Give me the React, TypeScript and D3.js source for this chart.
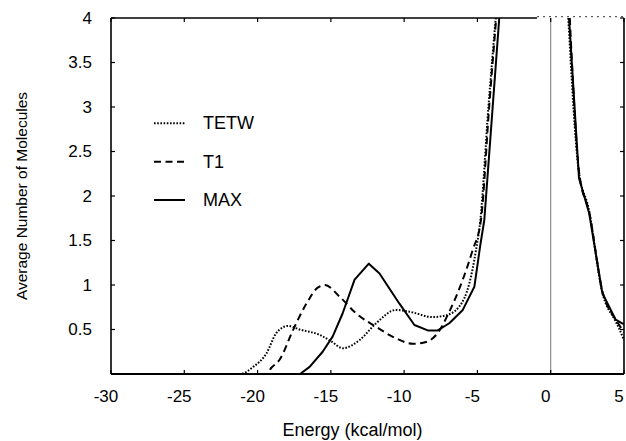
import React from "react";
import * as d3 from "d3";

// ---- data ----
const xTicks = [-30, -25, -20, -15, -10, -5, 0, 5];
const yTicks = [0.5, 1, 1.5, 2, 2.5, 3, 3.5, 4];

// null = above the plotted range (clipped, not visible)
const tetwEnergy = [-30, -21.2, -20.3, -19.4, -18.72, -17.93, -17.13, -15.77, -15.0, -14.18, -13.05, -11.91, -10.55, -9.64, -8.05, -7.14, -6.23, -5.55, -5.1, -4.8, -4.25, -3.75, 0, 1.2, 1.9, 2.6, 3.5, 4.4, 4.7, 5.0];
const tetwValue = [0, 0, 0.08, 0.23, 0.46, 0.54, 0.5, 0.44, 0.37, 0.29, 0.38, 0.57, 0.72, 0.7, 0.64, 0.66, 0.76, 1.02, 1.39, 1.73, 3.0, 4.0, null, 4.0, 2.3, 1.85, 0.93, 0.6, 0.5, 0.38];

const t1Energy = [-30, -19.4, -19.06, -18.5, -17.59, -16.67, -15.9, -15.4, -14.41, -13.27, -11.91, -10.55, -9.41, -8.5, -7.71, -6.92, -6.0, -5.33, -4.76, -4.2, -3.72, 0, 1.3, 1.95, 2.65, 3.5, 4.4, 4.8, 5.0];
const t1Value = [0, 0, 0.07, 0.16, 0.49, 0.79, 0.97, 1.0, 0.87, 0.68, 0.53, 0.4, 0.34, 0.36, 0.46, 0.7, 1.06, 1.39, 1.73, 3.0, 4.0, null, 4.0, 2.25, 1.8, 0.95, 0.62, 0.52, 0.47];

const maxEnergy = [-30, -17.1, -16.45, -15.56, -14.88, -14.2, -13.38, -12.41, -11.68, -10.32, -9.3, -8.39, -7.71, -6.92, -6.0, -5.21, -4.82, -4.53, -4.0, -3.51, 0, 1.25, 1.93, 2.62, 3.52, 4.43, 4.88, 5.0];
const maxValue = [0, 0, 0.08, 0.25, 0.42, 0.68, 1.06, 1.24, 1.13, 0.79, 0.55, 0.49, 0.49, 0.57, 0.72, 0.98, 1.43, 1.73, 2.91, 4.0, null, 4.0, 2.2, 1.81, 0.91, 0.61, 0.57, 0.56];

const seriesNames = ["TETW", "T1", "MAX"];

// ---- layout ----
const W = 626, H = 441;
const L = 111, R = 624, T = 18, B = 374;

type Pt = { e: number; v: number | null };
const zip = (es: number[], vs: (number | null)[]): Pt[] => es.map((e, i) => ({ e, v: vs[i] }));

export default function App() {
  const x = d3.scaleLinear().domain([-30, 5]).range([L, R]);
  const y = d3.scaleLinear().domain([0, 4]).range([B, T]);

  const mkLine = (curve: d3.CurveFactory) =>
    d3
      .line<Pt>()
      .defined((d) => d.v !== null)
      .x((d) => x(d.e))
      .y((d) => y(d.v as number))
      .curve(curve);

  const smooth = mkLine(d3.curveMonotoneX);
  const straight = mkLine(d3.curveLinear);

  const series = [
    { name: seriesNames[0], d: smooth(zip(tetwEnergy, tetwValue)), dash: "1.6,1.6" },
    { name: seriesNames[1], d: smooth(zip(t1Energy, t1Value)), dash: "7,4.5" },
    { name: seriesNames[2], d: straight(zip(maxEnergy, maxValue)), dash: undefined },
  ];

  const font = "'Liberation Sans', Arial, Helvetica, sans-serif";
  const legendY = [123.3, 161.7, 200];

  return (
    <svg
      width={W}
      height={H}
      viewBox={`0 0 ${W} ${H}`}
      style={{ position: "absolute", left: 0, top: 0, background: "#fff" }}
      fontFamily={font}
    >
      <defs>
        <clipPath id="plotclip">
          <rect x={L} y={T} width={R - L} height={B - T + 1} />
        </clipPath>
      </defs>
      <rect x={0} y={0} width={W} height={H} fill="#fff" />

      {/* vertical line at zero */}
      <line x1={x(0)} x2={x(0)} y1={T} y2={B} stroke="#777" strokeWidth={1} />

      {/* curves */}
      <g clipPath="url(#plotclip)">
        {series.map((s) => (
          <path
            key={s.name}
            d={s.d || ""}
            fill="none"
            stroke="#000"
            strokeWidth={2}
            strokeDasharray={s.dash}
            strokeLinejoin="round"
          />
        ))}
      </g>

      {/* border */}
      <line x1={L} x2={L} y1={T} y2={B} stroke="#000" strokeWidth={1.6} />
      <line x1={L} x2={R} y1={B} y2={B} stroke="#000" strokeWidth={1.8} />
      <line x1={R} x2={R} y1={T} y2={B} stroke="#000" strokeWidth={1.6} />
      <line x1={L} x2={537} y1={T} y2={T} stroke="#000" strokeWidth={1.6} />
      <line x1={537} x2={R} y1={T - 1.3} y2={T - 1.3} stroke="#333" strokeWidth={1} strokeDasharray="2,4" />

      {/* x ticks */}
      {xTicks.map((t) => (
        <g key={"x" + t}>
          <line x1={x(t)} x2={x(t)} y1={B} y2={B - 4} stroke="#000" strokeWidth={1.2} />
          <line x1={x(t)} x2={x(t)} y1={T} y2={T + 4} stroke="#000" strokeWidth={1.2} />
          <text x={x(t) - 5} y={401.5} fontSize={17} textAnchor="middle" fill="#000">
            {t}
          </text>
        </g>
      ))}

      {/* y ticks */}
      {yTicks.map((t) => (
        <g key={"y" + t}>
          <line x1={L} x2={L + 4} y1={y(t)} y2={y(t)} stroke="#000" strokeWidth={1.2} />
          <line x1={R} x2={R - 4} y1={y(t)} y2={y(t)} stroke="#000" strokeWidth={1.2} />
          <text x={92} y={y(t)} fontSize={17} textAnchor="end" dominantBaseline="central" fill="#000">
            {t}
          </text>
        </g>
      ))}

      {/* axis titles */}
      <text x={352.5} y={436} fontSize={18} textAnchor="middle" fill="#000">
        Energy (kcal/mol)
      </text>
      <text
        transform={`translate(27,196) rotate(-90)`}
        fontSize={15.5}
        textAnchor="middle"
        fill="#000"
      >
        Average Number of Molecules
      </text>

      {/* legend */}
      {series.map((s, i) => (
        <g key={"lg" + s.name}>
          <line
            x1={154}
            x2={185}
            y1={legendY[i]}
            y2={legendY[i]}
            stroke="#000"
            strokeWidth={2}
            strokeDasharray={s.dash}
          />
          <text x={203} y={legendY[i]} fontSize={18} dominantBaseline="central" fill="#000">
            {s.name}
          </text>
        </g>
      ))}
    </svg>
  );
}
